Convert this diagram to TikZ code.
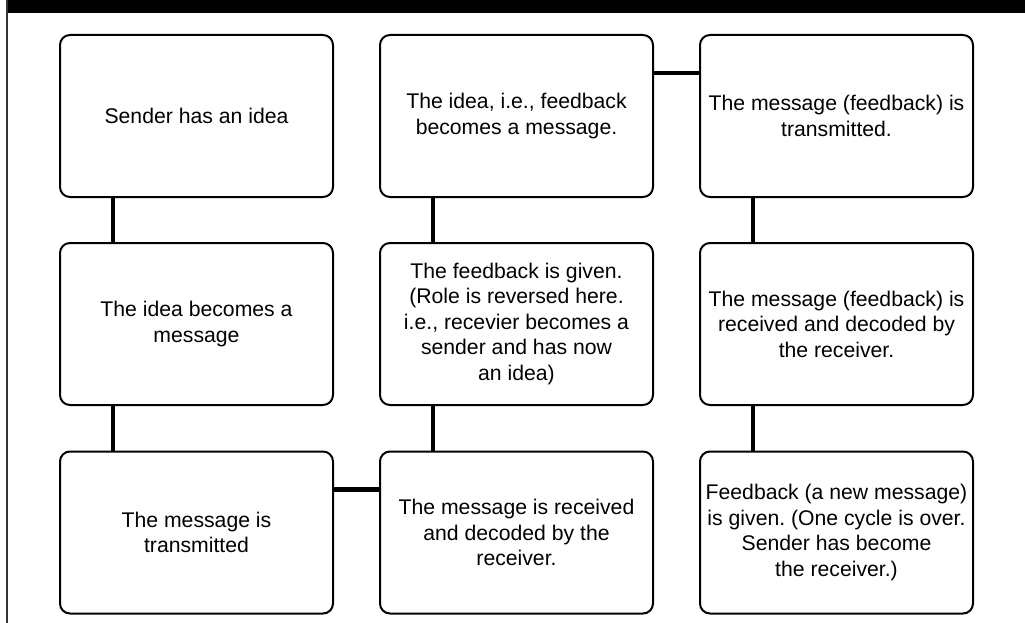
\documentclass[tikz,border=0pt]{standalone}
\usepackage{fontspec}
\setmainfont{Liberation Sans}
\usepackage{tikz}
\usepackage{xcolor}
\frenchspacing

\begin{document}
\begin{tikzpicture}[x=1pt,y=-1pt,font=\fontsize{21.2}{25.5}\selectfont,line cap=butt,
  stage/.style={draw,line width=2pt,rounded corners=10pt,minimum width=273pt,minimum height=162pt,align=center,inner sep=0pt},
  link/.style={line width=4.5pt}]
\useasboundingbox (0,0) rectangle (1025,623);
\fill[black] (7,0) rectangle (1025,13);
\draw[line width=1.5pt,black!80] (7,0) -- (7,623);
\node[stage] (a1) at (196.5,116) {Sender has an idea};
\node[stage] (a2) at (196.5,324) {The idea becomes a\\message};
\node[stage] (a3) at (196.5,532.5) {The message is\\transmitted};
\node[stage] (b1) at (516.5,116) {The idea, i.e., feedback\\becomes a message.};
\node[stage] (b2) at (516.5,324) {The feedback is given.\\(Role is reversed here.\\i.e., recevier becomes a\\sender and has now\\an idea)};
\node[stage] (b3) at (516.5,532.5) {The message is received\\and decoded by the\\receiver.};
\node[stage] (c1) at (836.5,116) {The message (feedback) is\\transmitted.};
\node[stage] (c2) at (836.5,324) {The message (feedback) is\\received and decoded by\\the receiver.};
\node[stage] (c3) at (836.5,532.5) {Feedback (a new message)\\is given. (One cycle is over.\\Sender has become\\the receiver.)};
\draw[link] ([xshift=54pt]a1.south west) -- ([xshift=54pt]a2.north west);
\draw[link] ([xshift=54pt]a2.south west) -- ([xshift=54pt]a3.north west);
\draw[link] ([yshift=-39pt]a3.north east) -- ([yshift=-39pt]b3.north west);
\draw[link] ([xshift=54pt]b3.north west) -- ([xshift=54pt]b2.south west);
\draw[link] ([xshift=54pt]b2.north west) -- ([xshift=54pt]b1.south west);
\draw[link] ([yshift=-39pt]b1.north east) -- ([yshift=-39pt]c1.north west);
\draw[link] ([xshift=54pt]c1.south west) -- ([xshift=54pt]c2.north west);
\draw[link] ([xshift=54pt]c2.south west) -- ([xshift=54pt]c3.north west);
\end{tikzpicture}
\end{document}
